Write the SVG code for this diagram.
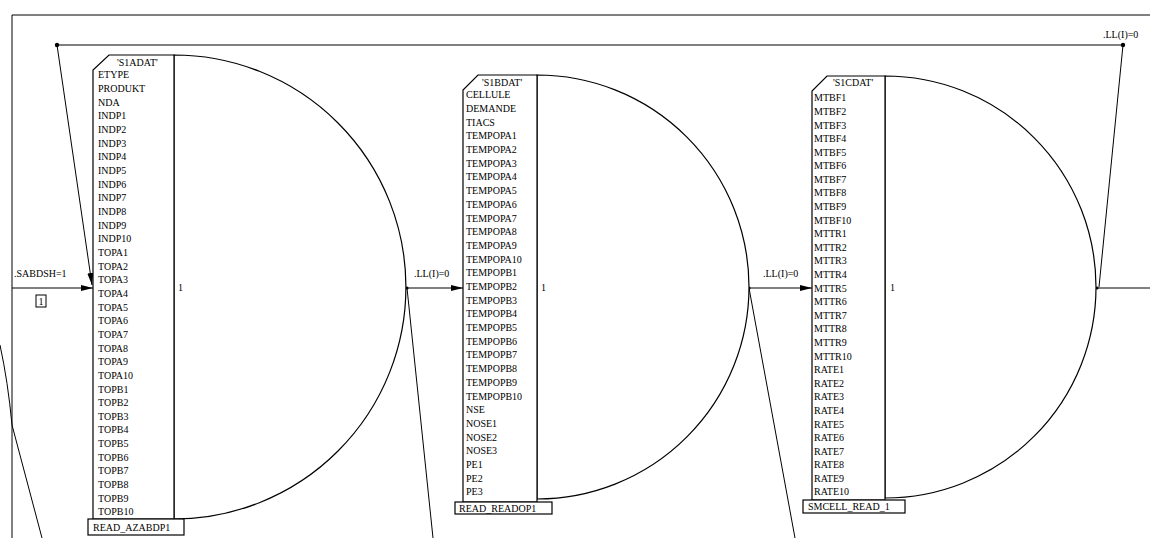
<svg xmlns="http://www.w3.org/2000/svg" width="1150" height="538" viewBox="0 0 1150 538">
<defs>
<marker id="ah" viewBox="0 0 12 6" refX="12" refY="3" markerWidth="12" markerHeight="6" orient="auto" markerUnits="userSpaceOnUse"><path d="M0,0 L12,3 L0,6 z" fill="#000"/></marker>
</defs>
<style>
.ln{stroke:#000;stroke-width:1;fill:none}
.sh{stroke:#000;stroke-width:1.2;fill:#fff}
.t{font-family:"Liberation Serif",serif;font-size:10px;fill:#000}
.lb{font-family:"Liberation Serif",serif;font-size:10px;fill:#000}
.dot{fill:#000}
</style>
<rect width="1150" height="538" fill="#fff"/>
<g id="frame">
<path class="ln" d="M12,538 V15 H1150"/>
</g>
<g id="connectors">
<path class="ln" d="M0,345 Q8,382 12,425 L42,538"/>
<path class="ln" d="M57,45 H1123"/>
<circle class="dot" cx="57" cy="45" r="2.2"/>
<circle class="dot" cx="1123" cy="45" r="2.2"/>
<path class="ln" d="M57,45 L92,285" marker-end="url(#ah)"/>
<path class="ln" d="M1123,45 L1099,287"/>
<path class="ln" d="M12,288 H93" marker-end="url(#ah)"/>
<path class="ln" d="M407,288 H463" marker-end="url(#ah)"/>
<path class="ln" d="M749,288 H812" marker-end="url(#ah)"/>
<path class="ln" d="M1097,288 H1150"/>
<path class="ln" d="M407,288 L433,538"/>
<path class="ln" d="M749,288 L795,538"/>
<circle class="dot" cx="407" cy="288" r="1.6"/>
<circle class="dot" cx="749" cy="288" r="1.6"/>
<circle class="dot" cx="1097" cy="288" r="1.6"/>
<text class="lb" x="14" y="277">.SABDSH=1</text>
<rect class="ln" x="36" y="295" width="10" height="12"/>
<text class="t" x="38.5" y="304.5">1</text>
<text class="lb" x="414" y="277">.LL(I)=0</text>
<text class="lb" x="763" y="277">.LL(I)=0</text>
<text class="lb" x="1103" y="38">.LL(I)=0</text>
</g>
<g id="node1">
<path class="sh" d="M174,55 A232,232 0 0 1 174,519 Z"/>
<path class="sh" d="M93,519 V70 L109,55 H174 V519 Z"/>
<text class="t" x="117" y="66">'S1ADAT'</text>
<text class="lb" x="178" y="291">1</text>
<g class="t">
<text x="98" y="78.3">ETYPE</text><text x="98" y="92">PRODUKT</text><text x="98" y="105.6">NDA</text>
<text x="98" y="119.3">INDP1</text><text x="98" y="132.9">INDP2</text><text x="98" y="146.6">INDP3</text><text x="98" y="160.3">INDP4</text><text x="98" y="173.9">INDP5</text><text x="98" y="187.6">INDP6</text><text x="98" y="201.2">INDP7</text><text x="98" y="214.9">INDP8</text><text x="98" y="228.5">INDP9</text><text x="98" y="242.2">INDP10</text>
<text x="98" y="255.9">TOPA1</text><text x="98" y="269.5">TOPA2</text><text x="98" y="283.2">TOPA3</text><text x="98" y="296.8">TOPA4</text><text x="98" y="310.5">TOPA5</text><text x="98" y="324.2">TOPA6</text><text x="98" y="337.8">TOPA7</text><text x="98" y="351.5">TOPA8</text><text x="98" y="365.1">TOPA9</text><text x="98" y="378.8">TOPA10</text>
<text x="98" y="392.5">TOPB1</text><text x="98" y="406.1">TOPB2</text><text x="98" y="419.8">TOPB3</text><text x="98" y="433.4">TOPB4</text><text x="98" y="447.1">TOPB5</text><text x="98" y="460.8">TOPB6</text><text x="98" y="474.4">TOPB7</text><text x="98" y="488.1">TOPB8</text><text x="98" y="501.7">TOPB9</text><text x="98" y="515.4">TOPB10</text>
</g>
</g>
<g id="node1-label">
<rect class="sh" x="88" y="519" width="96" height="16"/>
<text class="t" x="93" y="530.5">READ_AZABDP1</text>
</g>
<g id="node2">
<path class="sh" d="M537,75 A212,212 0 0 1 537,499 Z"/>
<path class="sh" d="M463,502 V90 L478,75 H537 V502 Z"/>
<text class="t" x="482" y="86">'S1BDAT'</text>
<text class="lb" x="541" y="291">1</text>
<g class="t">
<text x="466" y="98.3">CELLULE</text><text x="466" y="112">DEMANDE</text><text x="466" y="125.7">TIACS</text>
<text x="466" y="139.4">TEMPOPA1</text><text x="466" y="153.1">TEMPOPA2</text><text x="466" y="166.8">TEMPOPA3</text><text x="466" y="180.4">TEMPOPA4</text><text x="466" y="194.1">TEMPOPA5</text><text x="466" y="207.8">TEMPOPA6</text><text x="466" y="221.5">TEMPOPA7</text><text x="466" y="235.2">TEMPOPA8</text><text x="466" y="248.9">TEMPOPA9</text><text x="466" y="262.6">TEMPOPA10</text>
<text x="466" y="276.3">TEMPOPB1</text><text x="466" y="290">TEMPOPB2</text><text x="466" y="303.7">TEMPOPB3</text><text x="466" y="317.3">TEMPOPB4</text><text x="466" y="331">TEMPOPB5</text><text x="466" y="344.7">TEMPOPB6</text><text x="466" y="358.4">TEMPOPB7</text><text x="466" y="372.1">TEMPOPB8</text><text x="466" y="385.8">TEMPOPB9</text><text x="466" y="399.5">TEMPOPB10</text>
<text x="466" y="413.2">NSE</text><text x="466" y="426.9">NOSE1</text><text x="466" y="440.6">NOSE2</text><text x="466" y="454.2">NOSE3</text><text x="466" y="467.9">PE1</text><text x="466" y="481.6">PE2</text><text x="466" y="495.3">PE3</text>
</g>
</g>
<g id="node2-label">
<rect class="sh" x="455" y="502" width="97" height="12"/>
<text class="t" x="459" y="511.5">READ_READOP1</text>
</g>
<g id="node3">
<path class="sh" d="M885,76 A211,211 0 0 1 885,498 Z"/>
<path class="sh" d="M812,500 V91 L827,76 H885 V500 Z"/>
<text class="t" x="833" y="86">'S1CDAT'</text>
<text class="lb" x="890" y="291">1</text>
<g class="t">
<text x="814" y="101.3">MTBF1</text><text x="814" y="114.9">MTBF2</text><text x="814" y="128.5">MTBF3</text><text x="814" y="142.1">MTBF4</text><text x="814" y="155.7">MTBF5</text><text x="814" y="169.3">MTBF6</text><text x="814" y="182.8">MTBF7</text><text x="814" y="196.4">MTBF8</text><text x="814" y="210">MTBF9</text><text x="814" y="223.6">MTBF10</text>
<text x="814" y="237.2">MTTR1</text><text x="814" y="250.8">MTTR2</text><text x="814" y="264.4">MTTR3</text><text x="814" y="278">MTTR4</text><text x="814" y="291.6">MTTR5</text><text x="814" y="305.2">MTTR6</text><text x="814" y="318.7">MTTR7</text><text x="814" y="332.3">MTTR8</text><text x="814" y="345.9">MTTR9</text><text x="814" y="359.5">MTTR10</text>
<text x="814" y="373.1">RATE1</text><text x="814" y="386.7">RATE2</text><text x="814" y="400.3">RATE3</text><text x="814" y="413.9">RATE4</text><text x="814" y="427.5">RATE5</text><text x="814" y="441.1">RATE6</text><text x="814" y="454.6">RATE7</text><text x="814" y="468.2">RATE8</text><text x="814" y="481.8">RATE9</text><text x="814" y="495.4">RATE10</text>
</g>
</g>
<g id="node3-label">
<rect class="sh" x="803" y="500" width="102" height="13"/>
<text class="t" x="808" y="510">SMCELL_READ_1</text>
</g>
</svg>
